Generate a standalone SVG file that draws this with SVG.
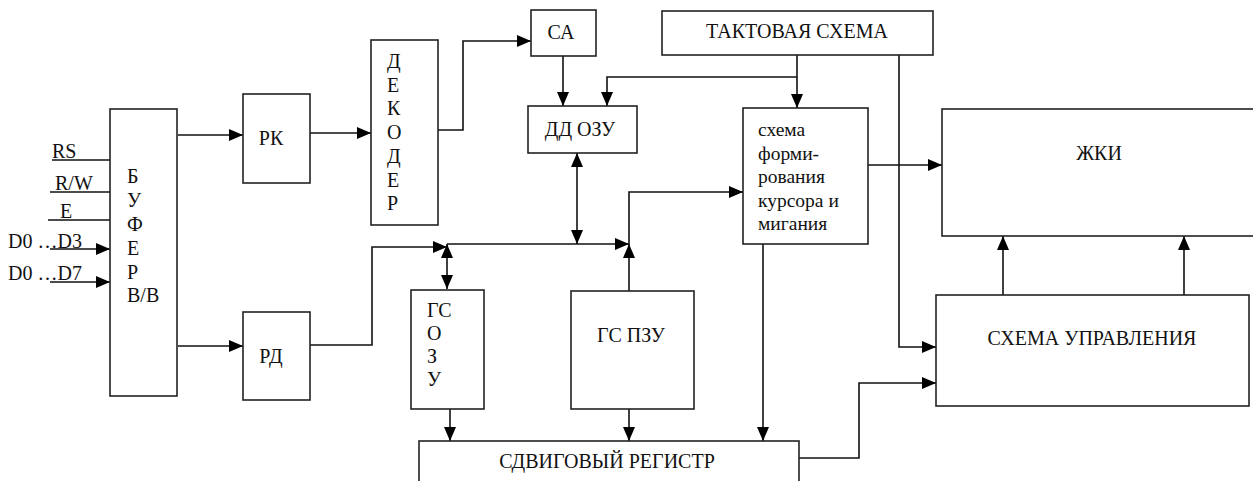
<svg xmlns="http://www.w3.org/2000/svg" width="1253" height="481" viewBox="0 0 1253 481">
<defs>
<marker id="ah" markerUnits="userSpaceOnUse" markerWidth="14" markerHeight="12" refX="14" refY="6" orient="auto-start-reverse">
<path d="M0,0 L14,6 L0,12 z" fill="#000"/>
</marker>
<style>
.box{fill:#fff;stroke:#222;stroke-width:1.6}
.ln{fill:none;stroke:#111;stroke-width:1.6}
.ar{marker-end:url(#ah)}
.da{marker-start:url(#ah);marker-end:url(#ah)}
text{font-family:"Liberation Serif","Times New Roman",serif;font-size:20px;fill:#111}
.c{text-anchor:middle}
.s{font-size:19.5px}
</style>
</defs>
<rect width="1253" height="481" fill="#fff"/>

<g id="connectors">
<line class="ln" x1="52" y1="160" x2="110" y2="160"/>
<line class="ln" x1="50" y1="192" x2="110" y2="192"/>
<line class="ln" x1="48" y1="220" x2="110" y2="220"/>
<line class="ln ar" x1="50" y1="249" x2="110" y2="249"/>
<line class="ln ar" x1="50" y1="282" x2="110" y2="282"/>
<line class="ln ar" x1="178" y1="135" x2="243" y2="135"/>
<line class="ln ar" x1="310" y1="133" x2="371" y2="133"/>
<polyline class="ln ar" points="438,130 463,130 463,41 531,41"/>
<line class="ln ar" x1="563" y1="56" x2="563" y2="106"/>
<line class="ln ar" x1="797" y1="55" x2="797" y2="108"/>
<polyline class="ln ar" points="797,77 607,77 607,106"/>
<polyline class="ln ar" points="899,55 899,347 936,347"/>
<line class="ln ar" x1="868" y1="165" x2="942" y2="165"/>
<line class="ln ar" x1="1003" y1="295" x2="1003" y2="236"/>
<line class="ln ar" x1="1184" y1="295" x2="1184" y2="236"/>
<line class="ln ar" x1="178" y1="346" x2="243" y2="346"/>
<polyline class="ln ar" points="310,345 372,345 372,247 447,247"/>
<line class="ln ar" x1="447" y1="244" x2="629" y2="244"/>
<line class="ln da" x1="577" y1="153" x2="577" y2="244"/>
<line class="ln da" x1="447" y1="244" x2="447" y2="289"/>
<line class="ln ar" x1="629" y1="291" x2="629" y2="244"/>
<polyline class="ln ar" points="629,244 629,192 743,192"/>
<line class="ln ar" x1="763" y1="244" x2="763" y2="441"/>
<line class="ln ar" x1="450" y1="409" x2="450" y2="441"/>
<line class="ln ar" x1="629" y1="409" x2="629" y2="441"/>
<polyline class="ln ar" points="799,458 859,458 859,383 936,383"/>
</g>

<g id="inputs">
<text x="52" y="158">RS</text>
<text x="55" y="190">R/W</text>
<text x="60" y="218">E</text>
<text x="8" y="248">D0 …D3</text>
<text x="8" y="280">D0 …D7</text>
</g>

<g id="buffer">
<rect class="box" x="110" y="109" width="67" height="287"/>
<text x="127" y="183">Б</text>
<text x="127" y="207">У</text>
<text x="127" y="231">Ф</text>
<text x="127" y="255">Е</text>
<text x="127" y="279">Р</text>
<text x="127" y="302">В/В</text>
</g>

<g id="rk">
<rect class="box" x="243" y="94" width="67" height="89"/>
<text class="c" x="271" y="145">РК</text>
</g>

<g id="rd">
<rect class="box" x="243" y="312" width="67" height="88"/>
<text class="c" x="271" y="363">РД</text>
</g>

<g id="decoder">
<rect class="box" x="371" y="40" width="67" height="185"/>
<text x="387" y="68">Д</text>
<text x="387" y="92">Е</text>
<text x="387" y="115">К</text>
<text x="387" y="139">О</text>
<text x="387" y="163">Д</text>
<text x="387" y="187">Е</text>
<text x="387" y="210">Р</text>
</g>

<g id="ca">
<rect class="box" x="531" y="10" width="65" height="46"/>
<text class="c" x="561" y="39">СА</text>
</g>

<g id="dd-ozu">
<rect class="box" x="528" y="106" width="109" height="47"/>
<text class="c" x="580" y="136">ДД ОЗУ</text>
</g>

<g id="clock">
<rect class="box" x="662" y="11" width="271" height="44"/>
<text class="c" x="797" y="38">ТАКТОВАЯ СХЕМА</text>
</g>

<g id="cursor">
<rect class="box" x="743" y="108" width="125" height="136"/>
<text class="s" x="758" y="136">схема</text>
<text class="s" x="758" y="160">форми-</text>
<text class="s" x="758" y="183">рования</text>
<text class="s" x="758" y="207">курсора и</text>
<text class="s" x="758" y="230">мигания</text>
</g>

<g id="lcd">
<rect class="box" x="942" y="109" width="320" height="127"/>
<text class="c" x="1099" y="160">ЖКИ</text>
</g>

<g id="control">
<rect class="box" x="936" y="295" width="313" height="111"/>
<text class="c" x="1092" y="345">СХЕМА УПРАВЛЕНИЯ</text>
</g>

<g id="gs-ozu">
<rect class="box" x="411" y="290" width="73" height="119"/>
<text x="427" y="317">ГС</text>
<text x="427" y="340">О</text>
<text x="427" y="363">З</text>
<text x="427" y="386">У</text>
</g>

<g id="gs-pzu">
<rect class="box" x="571" y="291" width="123" height="118"/>
<text class="c" x="631" y="342">ГС ПЗУ</text>
</g>

<g id="shift-register">
<rect class="box" x="419" y="441" width="380" height="60"/>
<text class="c" x="607" y="468">СДВИГОВЫЙ РЕГИСТР</text>
</g>
</svg>
